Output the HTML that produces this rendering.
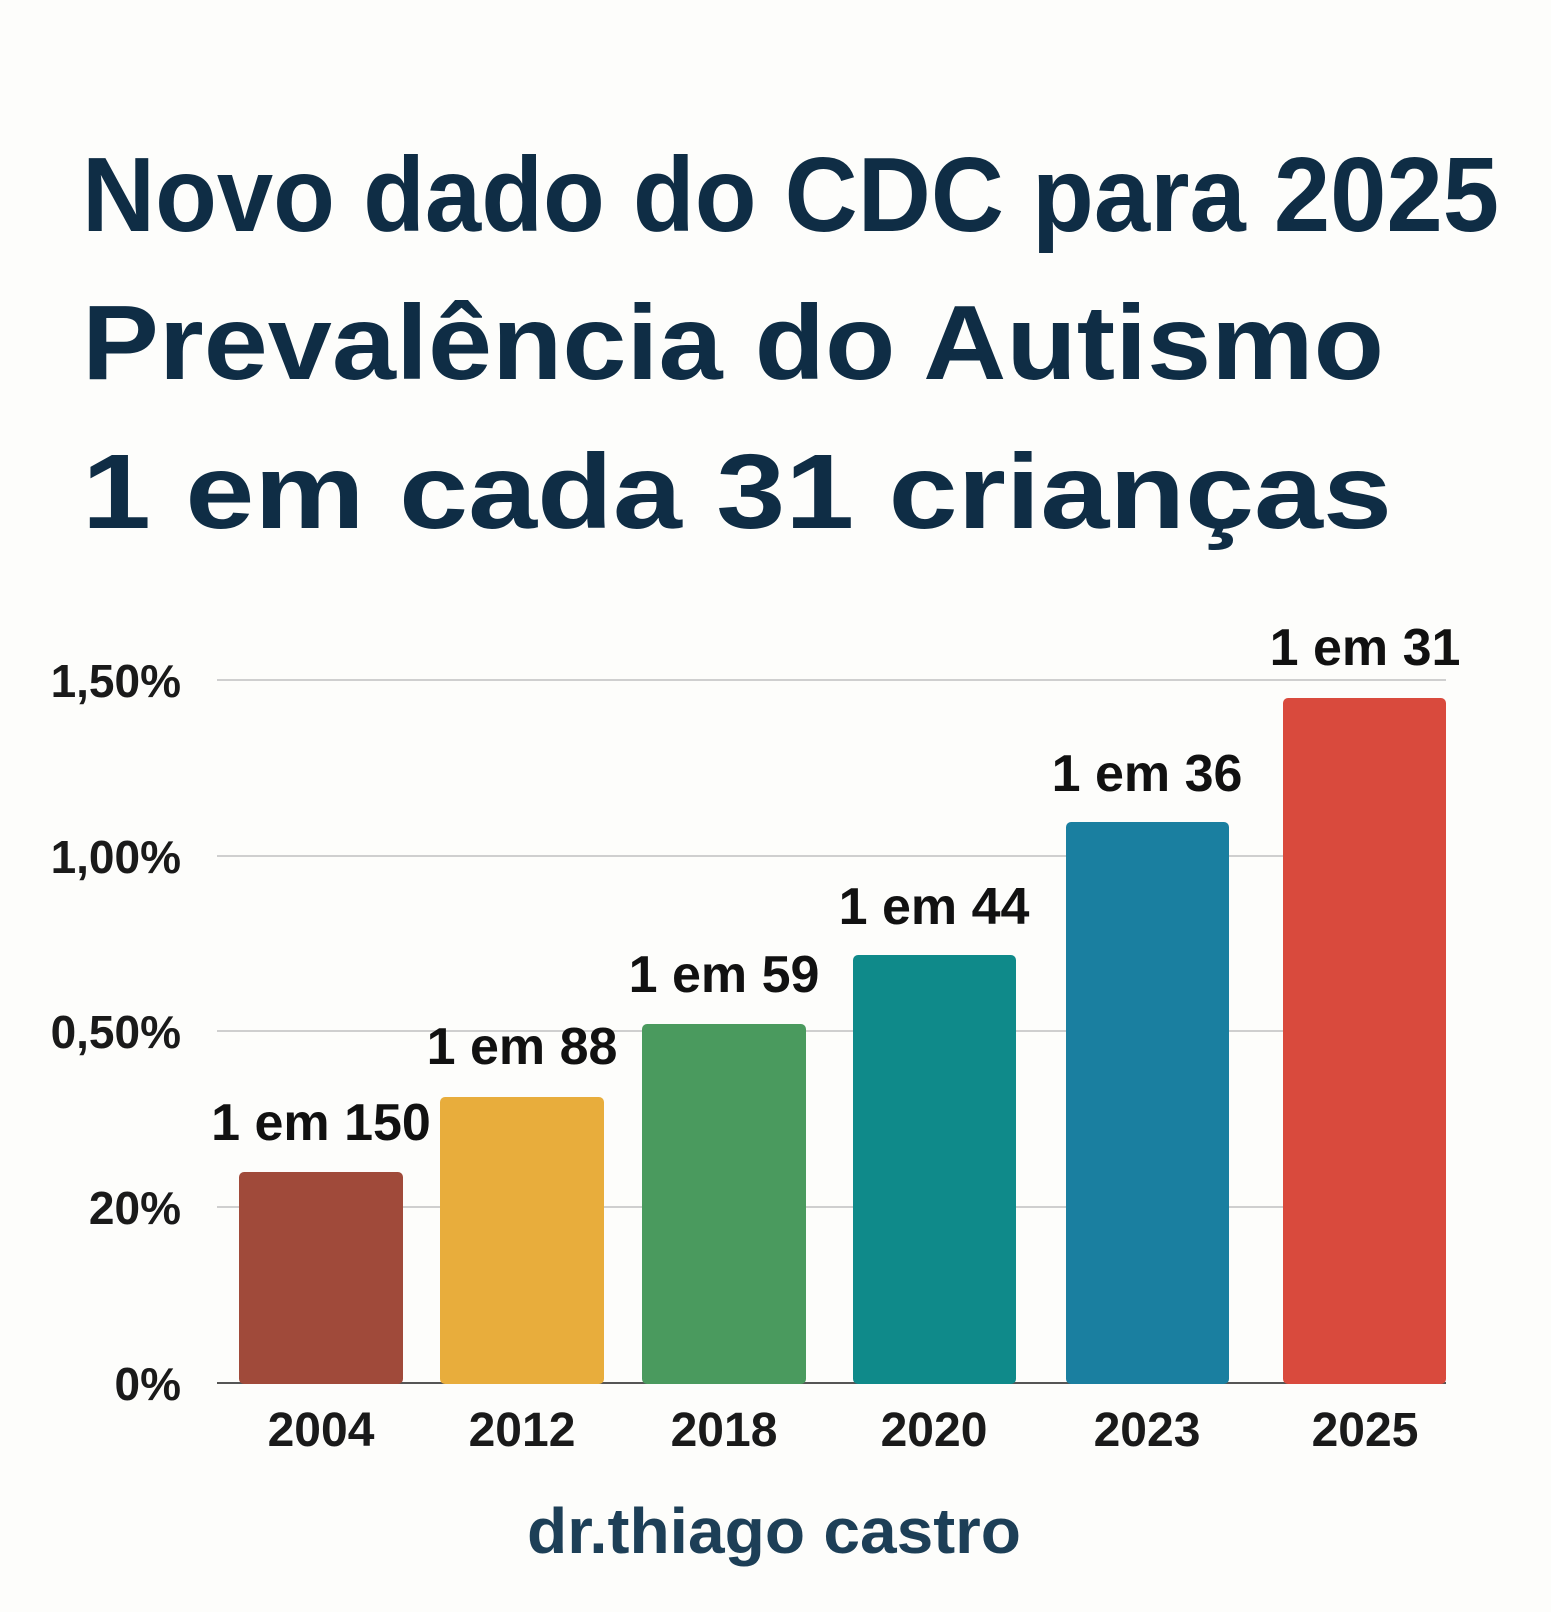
<!DOCTYPE html>
<html><head><style>html,body{margin:0;padding:0;background:#fdfdfb}</style></head><body>
<svg width="1551" height="1607" viewBox="0 0 1551 1607" xmlns="http://www.w3.org/2000/svg" font-family="Liberation Sans, sans-serif" font-weight="bold">
<rect width="1551" height="1607" fill="#fdfdfb"/>
<g fill="#0f2d45" font-size="106">
<text x="82" y="231" textLength="1417" lengthAdjust="spacingAndGlyphs">Novo dado do CDC para 2025</text>
<text x="82" y="379" textLength="1302" lengthAdjust="spacingAndGlyphs">Prevalência do Autismo</text>
<text x="82" y="528" textLength="1310" lengthAdjust="spacingAndGlyphs">1 em cada 31 crianças</text>
</g>
<g stroke="#cfcfcf" stroke-width="2">
<line x1="217" y1="680" x2="1446" y2="680"/>
<line x1="217" y1="856" x2="1446" y2="856"/>
<line x1="217" y1="1031" x2="1446" y2="1031"/>
<line x1="217" y1="1207" x2="1446" y2="1207"/>
</g>
<line x1="217" y1="1383" x2="1446" y2="1383" stroke="#555" stroke-width="2"/>
<g fill="#1a1a1a" font-size="46" text-anchor="end">
<text x="181" y="697">1,50%</text>
<text x="181" y="873">1,00%</text>
<text x="181" y="1048">0,50%</text>
<text x="181" y="1224">20%</text>
<text x="181" y="1400">0%</text>
</g>
<rect x="239" y="1172" width="164" height="212" rx="5" fill="#a04a3a"/>
<rect x="440" y="1097" width="164" height="287" rx="5" fill="#e8ad3c"/>
<rect x="642" y="1024" width="164" height="360" rx="5" fill="#4a9a5e"/>
<rect x="853" y="955" width="163" height="429" rx="5" fill="#0f8a8a"/>
<rect x="1066" y="822" width="163" height="562" rx="5" fill="#1a7fa0"/>
<rect x="1283" y="698" width="163" height="686" rx="5" fill="#d94a3d"/>
<g fill="#111" font-size="52" text-anchor="middle">
<text x="321" y="1140">1 em 150</text>
<text x="522" y="1064">1 em 88</text>
<text x="724" y="992">1 em 59</text>
<text x="934" y="924">1 em 44</text>
<text x="1147" y="791">1 em 36</text>
<text x="1365" y="665">1 em 31</text>
</g>
<g fill="#1a1a1a" font-size="48" text-anchor="middle">
<text x="321" y="1446">2004</text>
<text x="522" y="1446">2012</text>
<text x="724" y="1446">2018</text>
<text x="934" y="1446">2020</text>
<text x="1147" y="1446">2023</text>
<text x="1365" y="1446">2025</text>
</g>
<text x="774" y="1553" fill="#1d3f57" font-size="64" text-anchor="middle" textLength="494" lengthAdjust="spacingAndGlyphs">dr.thiago castro</text>
</svg>
</body></html>
